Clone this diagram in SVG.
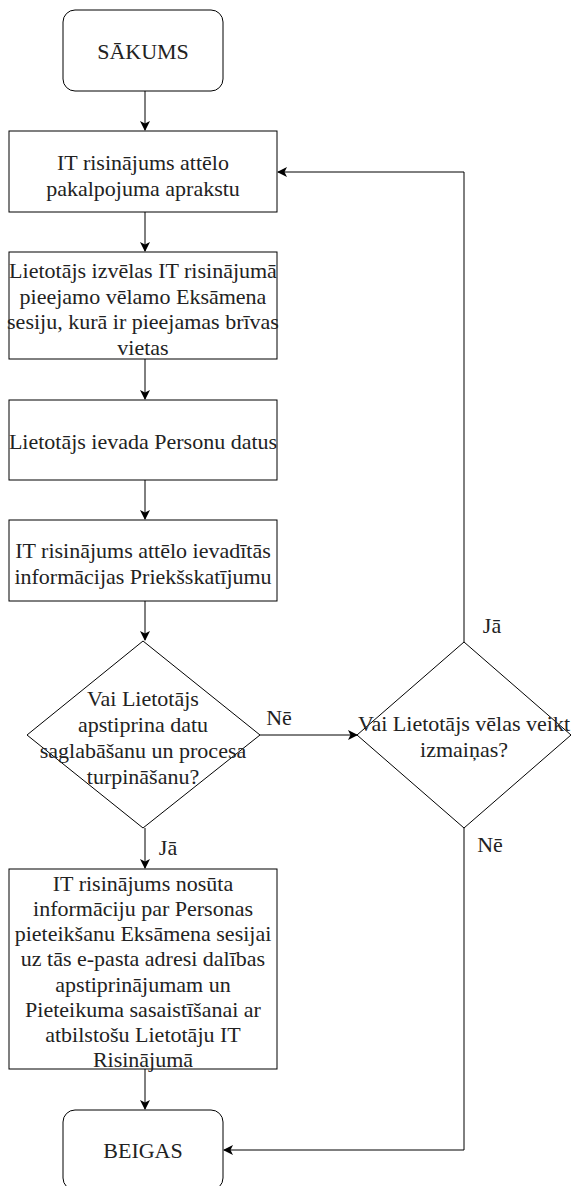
<svg xmlns="http://www.w3.org/2000/svg" width="572" height="1186" viewBox="0 0 572 1186">
<style>
.n{fill:#fff;stroke:#000;stroke-width:1}
.t{font-family:'Liberation Serif','Times New Roman',Tinos,'DejaVu Serif',serif;font-size:22px;fill:#222;text-anchor:middle;dominant-baseline:central}
.e{fill:none;stroke:#000;stroke-width:1}
</style>
<defs>
<marker id="a" viewBox="0 0 10 10" refX="9" refY="5" markerWidth="10" markerHeight="10" markerUnits="userSpaceOnUse" orient="auto">
<path d="M0,0 L10,5 L0,10 L2.5,5 Z" fill="#000"/>
</marker>
</defs>
<rect width="572" height="1186" fill="#fff"/>
<g id="connectors">
<path class="e" d="M145,91 V130" marker-end="url(#a)"/>
<path class="e" d="M145,212 V251" marker-end="url(#a)"/>
<path class="e" d="M145,359 V399" marker-end="url(#a)"/>
<path class="e" d="M145,480 V519" marker-end="url(#a)"/>
<path class="e" d="M145,601 V640" marker-end="url(#a)"/>
<path class="e" d="M145,828 V868" marker-end="url(#a)"/>
<path class="e" d="M145,1069 V1109" marker-end="url(#a)"/>
<path class="e" d="M260,735 H357" marker-end="url(#a)"/>
<path class="e" d="M464,642 V172 H278" marker-end="url(#a)"/>
<path class="e" d="M464,828 V1150 H224" marker-end="url(#a)"/>
<text class="t" x="279" y="717">Nē</text>
<text class="t" x="492" y="625">Jā</text>
<text class="t" x="490" y="844">Nē</text>
<text class="t" x="168" y="847">Jā</text>
</g>
<g id="start">
<rect class="n" x="63" y="10" width="160" height="81" rx="12"/>
<text class="t" x="143" y="51">SĀKUMS</text>
</g>
<g id="box1">
<rect class="n" x="9" y="131" width="268" height="81"/>
<text class="t" x="143" y="162">IT risinājums attēlo</text>
<text class="t" x="143" y="188">pakalpojuma aprakstu</text>
</g>
<g id="box2">
<rect class="n" x="9" y="252" width="268" height="107"/>
<text class="t" x="143" y="270">Lietotājs izvēlas IT risinājumā</text>
<text class="t" x="143" y="296">pieejamo vēlamo Eksāmena</text>
<text class="t" x="143" y="321">sesiju, kurā ir pieejamas brīvas</text>
<text class="t" x="143" y="347">vietas</text>
</g>
<g id="box3">
<rect class="n" x="9" y="400" width="268" height="80"/>
<text class="t" x="143" y="441">Lietotājs ievada Personu datus</text>
</g>
<g id="box4">
<rect class="n" x="9" y="520" width="268" height="81"/>
<text class="t" x="143" y="550">IT risinājums attēlo ievadītās</text>
<text class="t" x="143" y="576">informācijas Priekšskatījumu</text>
</g>
<g id="decision1">
<path class="n" d="M143,641 L260,735 L143,828 L27,735 Z"/>
<text class="t" x="143" y="698">Vai Lietotājs</text>
<text class="t" x="143" y="724">apstiprina datu</text>
<text class="t" x="143" y="750">saglabāšanu un procesa</text>
<text class="t" x="143" y="776">turpināšanu?</text>
</g>
<g id="decision2">
<path class="n" d="M464,642 L571,735 L464,828 L357,735 Z"/>
<text class="t" x="464" y="723">Vai Lietotājs vēlas veikt</text>
<text class="t" x="464" y="749">izmaiņas?</text>
</g>
<g id="box5">
<rect class="n" x="9" y="869" width="268" height="200"/>
<text class="t" x="143" y="883">IT risinājums nosūta</text>
<text class="t" x="143" y="908">informāciju par Personas</text>
<text class="t" x="143" y="933">pieteikšanu Eksāmena sesijai</text>
<text class="t" x="143" y="958">uz tās e-pasta adresi dalības</text>
<text class="t" x="143" y="984">apstiprinājumam un</text>
<text class="t" x="143" y="1009">Pieteikuma sasaistīšanai ar</text>
<text class="t" x="143" y="1034">atbilstošu Lietotāju IT</text>
<text class="t" x="143" y="1059">Risinājumā</text>
</g>
<g id="end">
<rect class="n" x="63" y="1110" width="160" height="80" rx="12"/>
<text class="t" x="143" y="1150">BEIGAS</text>
</g>
</svg>
